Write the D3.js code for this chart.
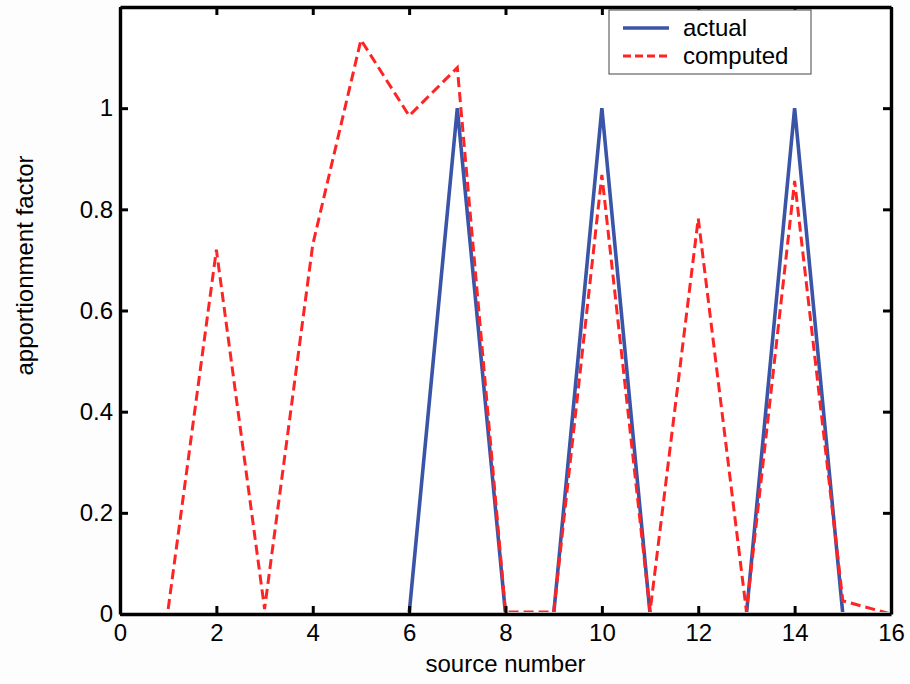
<!DOCTYPE html>
<html>
<head>
<meta charset="utf-8">
<script src="https://cdn.jsdelivr.net/npm/d3@7"></script>
<style>
  body { margin: 0; background: #fdfdfd; }
  svg text { font-family: "Liberation Sans", Arial, sans-serif; fill: #000; }
</style>
</head>
<body>
<div id="chart"></div>
<script>
// source numbers and apportionment factors
const sources = [1, 2, 3, 4, 5, 6, 7, 8, 9, 10, 11, 12, 13, 14, 15, 16];
const actual = [0, 0, 0, 0, 0, 0, 1, 0, 0, 1, 0, 0, 0, 1, 0, 0];
const computed = [0.01, 0.72, 0.01, 0.73, 1.135, 0.985, 1.08, 0.004, 0.004, 0.868, 0.005, 0.782, 0.005, 0.856, 0.026, 0.0];
const xTicks = [0, 2, 4, 6, 8, 10, 12, 14, 16];
const yTicks = [0, 0.2, 0.4, 0.6, 0.8, 1];
const legendLabels = ['actual', 'computed'];

const W = 910, H = 684;
const margin = { left: 120, right: 19, top: 7, bottom: 70 };
const iw = W - margin.left - margin.right;
const ih = H - margin.top - margin.bottom;

const svg = d3.select('#chart').append('svg')
  .attr('width', W).attr('height', H);

const x = d3.scaleLinear().domain([0, 16]).range([0, iw]);
const y = d3.scaleLinear().domain([0, 1.2]).range([ih, 0]);

const g = svg.append('g').attr('transform', `translate(${margin.left},${margin.top})`);

g.append('rect').attr('width', iw).attr('height', ih).attr('fill', '#fff');

// lines are clipped to the inside of the axes box, so zero runs hide under the axis
svg.append('defs').append('clipPath').attr('id', 'plot-clip')
  .append('rect').attr('x', 1.5).attr('y', 1.5).attr('width', iw - 3).attr('height', ih - 3.4);

const line = (vals) => d3.line()
  .x((d, i) => x(sources[i]))
  .y(d => y(d))(vals);

const lines = g.append('g').attr('clip-path', 'url(#plot-clip)');

lines.append('path')
  .attr('d', line(actual))
  .attr('fill', 'none')
  .attr('stroke', '#3a55a8')
  .attr('stroke-width', 3.6);

lines.append('path')
  .attr('d', line(computed))
  .attr('fill', 'none')
  .attr('stroke', '#ff2424')
  .attr('stroke-width', 3)
  .attr('stroke-dasharray', '10,5');

// axes: bottom/left with labels, top/right mirrored ticks
const tickLen = 8;
const axStyle = sel => {
  sel.select('.domain').attr('stroke', '#000').attr('stroke-width', 3.4);
  sel.selectAll('.tick line').attr('stroke', '#000').attr('stroke-width', 3);
  sel.selectAll('.tick text').attr('font-size', 24).attr('fill', '#000');
};

g.append('g')
  .attr('transform', `translate(0,${ih})`)
  .call(d3.axisBottom(x).tickValues(xTicks).tickSize(-tickLen).tickSizeOuter(0).tickPadding(10).tickFormat(d3.format('d')))
  .call(axStyle);

g.append('g')
  .call(d3.axisTop(x).tickValues(xTicks).tickSize(-tickLen).tickSizeOuter(0).tickFormat(''))
  .call(axStyle);

g.append('g')
  .call(d3.axisLeft(y).tickValues(yTicks).tickSize(-tickLen).tickSizeOuter(0).tickPadding(7).tickFormat(d => d === 0 || d === 1 ? d3.format('d')(d) : d3.format('.1f')(d)))
  .call(axStyle);

g.append('g')
  .attr('transform', `translate(${iw},0)`)
  .call(d3.axisRight(y).tickValues(yTicks).tickSize(-tickLen).tickSizeOuter(0).tickFormat(''))
  .call(axStyle);

// axis titles
svg.append('text')
  .attr('x', margin.left + iw / 2).attr('y', 672)
  .attr('text-anchor', 'middle').attr('font-size', 24)
  .text('source number');

svg.append('text')
  .attr('transform', `translate(33,${margin.top + ih / 2 - 45}) rotate(-90)`)
  .attr('text-anchor', 'middle').attr('font-size', 24)
  .text('apportionment factor');

// legend
const leg = svg.append('g').attr('transform', 'translate(609,10)');
leg.append('rect').attr('width', 202).attr('height', 64)
  .attr('fill', '#fff').attr('stroke', '#444').attr('stroke-width', 1);

const legStyles = [
  { stroke: '#3a55a8', dash: null, w: 3.4 },
  { stroke: '#ff2424', dash: '8,4', w: 3 }
];
legendLabels.forEach((lab, i) => {
  const ly = 18 + i * 28;
  leg.append('line')
    .attr('x1', 14).attr('x2', 60).attr('y1', ly).attr('y2', ly)
    .attr('stroke', legStyles[i].stroke)
    .attr('stroke-width', legStyles[i].w)
    .attr('stroke-dasharray', legStyles[i].dash);
  leg.append('text')
    .attr('x', 74).attr('y', ly + 8)
    .attr('font-size', 24)
    .text(lab);
});
</script>
</body>
</html>
